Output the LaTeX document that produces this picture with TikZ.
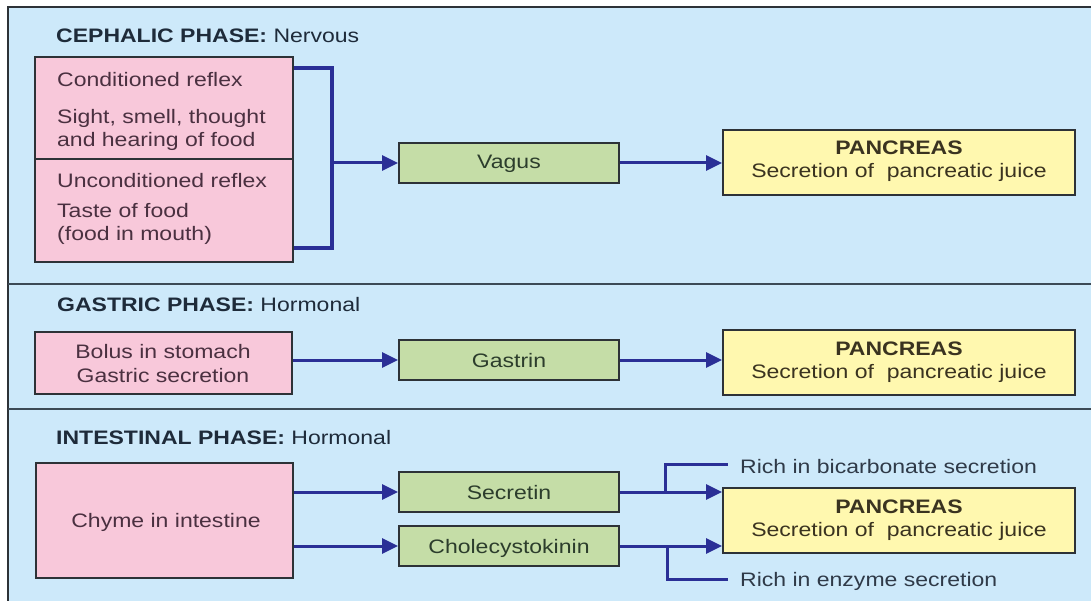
\documentclass[tikz,border=0pt]{standalone}
\usepackage{fontspec}
\setmainfont{Liberation Sans}[FakeStretch=1.18]
\usetikzlibrary{arrows.meta}
\definecolor{bg}{RGB}{205,233,250}
\definecolor{pinkfill}{RGB}{248,200,218}
\definecolor{greenfill}{RGB}{197,221,167}
\definecolor{yellowfill}{RGB}{255,248,175}
\definecolor{boxline}{RGB}{45,50,55}
\definecolor{sepline}{RGB}{60,74,85}
\definecolor{arrowblue}{RGB}{42,47,150}
\definecolor{titletext}{RGB}{30,43,58}
\definecolor{pinktext}{RGB}{74,48,64}
\definecolor{greentext}{RGB}{44,61,44}
\definecolor{yellowtext}{RGB}{58,51,32}
\definecolor{labeltext}{RGB}{47,58,72}
\begin{document}
\begin{tikzpicture}[x=1pt,y=-1pt,
  every node/.style={font=\fontsize{19.5}{23.5}\selectfont},
  box/.style={draw=boxline, line width=1.8pt, inner sep=0pt},
  pinkbox/.style={box, fill=pinkfill},
  greenbox/.style={box, fill=greenfill, minimum width=220pt, minimum height=40pt},
  yellowbox/.style={box, fill=yellowfill, minimum width=352pt, minimum height=65pt},
  txt/.style={inner sep=0pt, anchor=base},
  ltxt/.style={inner sep=0pt, anchor=base west},
  arr/.style={draw=arrowblue, line width=3pt, -{Triangle[length=16pt,width=15pt]}},
  conn/.style={draw=arrowblue, line width=3pt, line join=miter},
  bracket/.style={draw=arrowblue, line width=4pt, line join=miter},
  sep/.style={draw=sepline, line width=2pt},
]
\useasboundingbox (0,0) rectangle (1091,601);
% background and frame
\fill[bg] (8,7) rectangle (1091,601);
\draw[boxline, line width=2pt] (8,601) -- (8,7) -- (1091,7);
\draw[sep] (8,284) -- (1091,284);
\draw[sep] (8,409) -- (1091,409);

% ---------------- Cephalic phase ----------------
\node[ltxt, text=titletext] (t1) at (56,43) {\textbf{CEPHALIC PHASE:} Nervous};
\node[pinkbox, minimum width=258pt, minimum height=205pt] (ceph) at (164,159.5) {};
\draw[boxline, line width=1.8pt] (ceph.west |- 0,159) -- (ceph.east |- 0,159);
\node[ltxt, text=pinktext] (c1) at (57,87) {Conditioned reflex};
\node[ltxt, text=pinktext] (c2) at (57,124) {Sight, smell, thought};
\node[ltxt, text=pinktext] (c3) at (57,147) {and hearing of food};
\node[ltxt, text=pinktext] (c4) at (57,188) {Unconditioned reflex};
\node[ltxt, text=pinktext] (c5) at (57,218) {Taste of food};
\node[ltxt, text=pinktext] (c6) at (57,241) {(food in mouth)};

\node[greenbox] (vagus) at (509,163) {};
\node[txt, text=greentext] (vagust) at (509,169) {Vagus};
\node[yellowbox] (pan1) at (899,162.5) {};
\node[txt, text=yellowtext] (pan1a) at (899,155) {\textbf{PANCREAS}};
\node[txt, text=yellowtext] (pan1b) at (899,178) {Secretion of~ pancreatic juice};

\coordinate (brk) at (332,163);
\draw[bracket] (ceph.east |- 0,68) -| (332,248) -- (ceph.east |- 0,248);
\draw[arr] (brk) -- (vagus.west);
\draw[arr] (vagus.east) -- (vagus.east -| pan1.west);

% ---------------- Gastric phase ----------------
\node[ltxt, text=titletext] (t2) at (57,311) {\textbf{GASTRIC PHASE:} Hormonal};
\node[pinkbox, minimum width=257pt, minimum height=62pt] (gas) at (163.5,363) {};
\node[txt, text=pinktext] (gas1) at (163,358) {Bolus in stomach};
\node[txt, text=pinktext] (gas2) at (163,382) {Gastric secretion};
\node[greenbox] (gastrin) at (509,360) {};
\node[txt, text=greentext] (gastrint) at (509,367) {Gastrin};
\node[yellowbox] (pan2) at (899,362.5) {};
\node[txt, text=yellowtext] (pan2a) at (899,355) {\textbf{PANCREAS}};
\node[txt, text=yellowtext] (pan2b) at (899,378) {Secretion of~ pancreatic juice};
\draw[arr] (gas.east |- gastrin.west) -- (gastrin.west);
\draw[arr] (gastrin.east) -- (gastrin.east -| pan2.west);

% ---------------- Intestinal phase ----------------
\node[ltxt, text=titletext] (t3) at (56,444) {\textbf{INTESTINAL PHASE:} Hormonal};
\node[pinkbox, minimum width=257pt, minimum height=115pt] (chyme) at (164.5,520.5) {};
\node[txt, text=pinktext] (chymet) at (166,527) {Chyme in intestine};
\node[greenbox] (secretin) at (509,492) {};
\node[txt, text=greentext] (secretint) at (509,499) {Secretin};
\node[greenbox] (cck) at (509,546) {};
\node[txt, text=greentext] (cckt) at (509,553) {Cholecystokinin};
\node[yellowbox] (pan3) at (899,520.5) {};
\node[txt, text=yellowtext] (pan3a) at (899,513) {\textbf{PANCREAS}};
\node[txt, text=yellowtext] (pan3b) at (899,536) {Secretion of~ pancreatic juice};
\node[ltxt, text=labeltext] (bic) at (740,473) {Rich in bicarbonate secretion};
\node[ltxt, text=labeltext] (enz) at (740,586) {Rich in enzyme secretion};

\draw[arr] (chyme.east |- secretin.west) -- (secretin.west);
\draw[arr] (chyme.east |- cck.west) -- (cck.west);
\draw[arr] (secretin.east) -- (secretin.east -| pan3.west);
\draw[arr] (cck.east) -- (cck.east -| pan3.west);
\coordinate (sb) at (665,492);
\coordinate (bt) at (728,464);
\coordinate (eb) at (667,546);
\coordinate (et) at (728,579);
\draw[conn] (sb) |- (bt);
\draw[conn] (eb) |- (et);
\end{tikzpicture}
\end{document}
